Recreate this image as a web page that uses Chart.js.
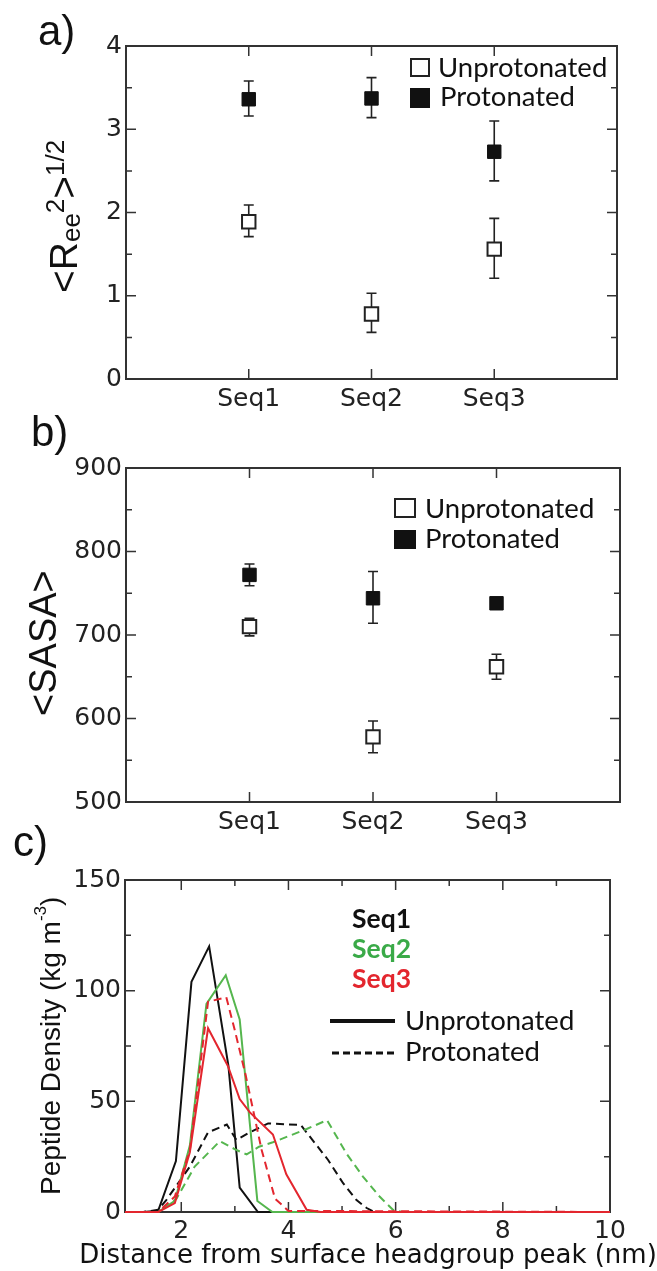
<!DOCTYPE html>
<html>
<head>
<meta charset="utf-8">
<script src="https://cdn.jsdelivr.net/npm/chart.js@4.4.1/dist/chart.umd.min.js"></script>
<style>
    html, body { margin: 0; padding: 0; background: #fff; }
    #wrap { position: relative; width: 657px; height: 1271px; overflow: hidden; }
    canvas { position: absolute; left: 0; }
</style>
</head>
<body>
<div id="wrap">
    <canvas id="chartA" width="657" height="420" style="top:0px"></canvas>
    <canvas id="chartB" width="657" height="440" style="top:400px"></canvas>
    <canvas id="chartC" width="657" height="456" style="top:815px"></canvas>
</div>
<script>
// categories shared by panels a) and b)
const seqLabels = ['Seq1', 'Seq2', 'Seq3'];
const seqPos = [1, 2, 3];
const stateLabels = ['Unprotonated', 'Protonated'];

// a) <Ree^2>^1/2
const reeUnprot = [1.89, 0.78, 1.56];
const reeUnprotLo = [1.71, 0.56, 1.21];
const reeUnprotHi = [2.09, 1.03, 1.93];
const reeProt = [3.36, 3.37, 2.73];
const reeProtLo = [3.16, 3.14, 2.38];
const reeProtHi = [3.58, 3.62, 3.10];
const reeTicks = [0, 1, 2, 3, 4];
const reeMinor = [0.5, 1.5, 2.5, 3.5];

// b) <SASA>
const sasaUnprot = [710, 578, 662];
const sasaUnprotLo = [699, 559, 647];
const sasaUnprotHi = [720, 597, 677];
const sasaProt = [772, 744, 738];
const sasaProtLo = [759, 714, 736];
const sasaProtHi = [785, 776, 740];
const sasaTicks = [500, 600, 700, 800, 900];
const sasaMinor = [550, 650, 750, 850];

// c) peptide density vs distance (nm)
const distTicks = [2, 4, 6, 8, 10];
const distMinor = [3, 5, 7, 9];
const densTicks = [0, 50, 100, 150];
const densMinor = [25, 75, 125];

const seq1UnX = [0.95, 1.29, 1.57, 1.9, 2.19, 2.52, 2.88, 3.09, 3.43, 10];
const seq1UnY = [0, 0, 0.6, 23, 104, 120, 66, 11, 0, 0];
const seq1PrX = [0.95, 1.29, 1.57, 1.72, 2.16, 2.5, 2.85, 3.03, 3.28, 3.62, 4.23, 4.74, 5.02, 5.27, 5.46, 5.6, 10];
const seq1PrY = [0, 0, 1, 5.4, 20.5, 36, 39.5, 32.5, 36, 40, 39.3, 23.5, 13, 5.4, 1.8, 0, 0];
const seq2UnX = [0.95, 1.57, 1.88, 2.16, 2.47, 2.83, 3.09, 3.42, 3.7, 10];
const seq2UnY = [0, 0, 5, 30, 94, 107, 87, 5, 0, 0];
const seq2PrX = [0.95, 1.57, 1.91, 2.25, 2.72, 3.03, 3.22, 3.45, 3.71, 4.34, 4.72, 5.08, 5.39, 5.7, 5.95, 6.13, 10];
const seq2PrY = [0, 0, 6, 20.5, 32, 28, 26, 29.5, 31.5, 37.5, 41.5, 26.5, 16, 7, 1, 0, 0];
const seq3UnX = [0.95, 1.57, 1.88, 2.16, 2.5, 2.87, 3.09, 3.28, 3.71, 3.96, 4.34, 4.6, 10];
const seq3UnY = [0, 0, 4, 27, 83, 66, 51, 45, 35, 17, 1, 0, 0];
const seq3PrX = [0.95, 1.57, 1.88, 2.16, 2.5, 2.84, 3.0, 3.2, 3.5, 3.75, 4.0, 10];
const seq3PrY = [0, 0, 7, 28, 95, 97, 82, 62, 28, 6, 0.5, 0];

const seqColors = ['#111111', '#55b64e', '#e3262e'];
const seqTextColors = ['#111111', '#3aaa48', '#e3262e'];

const SANS = "'Liberation Sans', Arial, sans-serif";
const WIDE = "'DejaVu Sans', sans-serif";
const LEG = "Lato, 'Open Sans', sans-serif";

function pts(xs, ys) {
    return xs.map((x, i) => ({ x: x, y: ys[i] }));
}

// box with inward tick marks on all four sides
const framePlugin = {
    id: 'frame',
    beforeDatasetsDraw(chart, args, opts) {
        const { ctx, chartArea: a } = chart;
        const x = chart.scales.x, y = chart.scales.y;
        ctx.save();
        ctx.strokeStyle = '#333';
        ctx.lineWidth = 2;
        ctx.strokeRect(a.left, a.top, a.right - a.left, a.bottom - a.top);
        ctx.lineWidth = 1.5;
        ctx.beginPath();
        const xt = (vals, len) => vals.forEach(v => {
            const p = x.getPixelForValue(v);
            ctx.moveTo(p, a.bottom); ctx.lineTo(p, a.bottom - len);
            ctx.moveTo(p, a.top); ctx.lineTo(p, a.top + len);
        });
        const yt = (vals, len) => vals.forEach(v => {
            const p = y.getPixelForValue(v);
            ctx.moveTo(a.left, p); ctx.lineTo(a.left + len, p);
            ctx.moveTo(a.right, p); ctx.lineTo(a.right - len, p);
        });
        xt(opts.xMajor || [], 10);
        xt(opts.xMinor || [], 6);
        yt(opts.yMajor || [], 10);
        yt(opts.yMinor || [], 6);
        ctx.stroke();
        ctx.restore();
    }
};

// vertical error bars with caps, drawn under the markers
const errorBars = {
    id: 'errorBars',
    beforeDatasetsDraw(chart) {
        const { ctx } = chart;
        const x = chart.scales.x, y = chart.scales.y;
        chart.data.datasets.forEach(ds => {
            if (!ds.errLo) return;
            ctx.save();
            ctx.strokeStyle = '#222';
            ctx.lineWidth = 1.6;
            ctx.beginPath();
            ds.data.forEach((p, i) => {
                const px = x.getPixelForValue(p.x);
                const lo = y.getPixelForValue(ds.errLo[i]);
                const hi = y.getPixelForValue(ds.errHi[i]);
                ctx.moveTo(px, lo); ctx.lineTo(px, hi);
                ctx.moveTo(px - 5, lo); ctx.lineTo(px + 5, lo);
                ctx.moveTo(px - 5, hi); ctx.lineTo(px + 5, hi);
            });
            ctx.stroke();
            ctx.restore();
        });
    }
};

// text made of several runs (sub/superscripts), optionally rotated or centred
const richText = {
    id: 'richText',
    afterDraw(chart, args, opts) {
        const ctx = chart.ctx;
        const fontOf = (it, p) => (p.weight || 'normal') + ' ' + p.size + 'px ' + (p.family || it.family || SANS);
        (opts.items || []).forEach(it => {
            ctx.save();
            ctx.translate(it.x, it.y);
            if (it.rotate) ctx.rotate(it.rotate);
            ctx.textBaseline = 'alphabetic';
            ctx.textAlign = 'left';
            let cx = 0;
            if (it.align === 'center') {
                let w = 0;
                it.parts.forEach(p => { ctx.font = fontOf(it, p); w += ctx.measureText(p.t).width; });
                cx = -w / 2;
            }
            it.parts.forEach(p => {
                ctx.font = fontOf(it, p);
                ctx.fillStyle = p.color || it.color || '#111';
                ctx.fillText(p.t, cx, p.dy || 0);
                cx += ctx.measureText(p.t).width;
            });
            ctx.restore();
        });
    }
};

// hand placed legend symbols
const symbolLegend = {
    id: 'symbolLegend',
    afterDraw(chart, args, opts) {
        const ctx = chart.ctx;
        (opts.items || []).forEach(it => {
            ctx.save();
            if (it.kind === 'open' || it.kind === 'filled') {
                const [bx, by, bw, bh] = it.box;
                if (it.kind === 'filled') {
                    ctx.fillStyle = '#111';
                    ctx.fillRect(bx, by, bw, bh);
                } else {
                    ctx.strokeStyle = '#222';
                    ctx.lineWidth = 2;
                    ctx.strokeRect(bx + 1, by + 1, bw - 2, bh - 2);
                }
            } else {
                ctx.strokeStyle = '#111';
                ctx.lineWidth = it.kind === 'solid' ? 4 : 3;
                if (it.kind === 'dashed') ctx.setLineDash([7, 4]);
                ctx.beginPath();
                ctx.moveTo(it.line[0], it.line[2]);
                ctx.lineTo(it.line[1], it.line[2]);
                ctx.stroke();
            }
            if (it.text) {
                ctx.font = '27.5px ' + LEG;
                ctx.fillStyle = '#111';
                ctx.textBaseline = 'alphabetic';
                ctx.fillText(it.text, it.tx, it.ty);
            }
            ctx.restore();
        });
    }
};

function errorChart(id, cfg) {
    return new Chart(document.getElementById(id), {
        type: 'scatter',
        data: {
            datasets: [
                {
                    label: stateLabels[0],
                    data: pts(seqPos, cfg.unprot),
                    errLo: cfg.unprotLo,
                    errHi: cfg.unprotHi,
                    pointStyle: 'rect',
                    pointRadius: 9.5,
                    pointHoverRadius: 9.5,
                    backgroundColor: '#ffffff',
                    borderColor: '#222',
                    borderWidth: 2
                },
                {
                    label: stateLabels[1],
                    data: pts(seqPos, cfg.prot),
                    errLo: cfg.protLo,
                    errHi: cfg.protHi,
                    pointStyle: 'rect',
                    pointRadius: 9.5,
                    pointHoverRadius: 9.5,
                    backgroundColor: '#111',
                    borderColor: '#111',
                    borderWidth: 1
                }
            ]
        },
        options: {
            responsive: false,
            animation: false,
            events: [],
            layout: { padding: cfg.padding },
            plugins: {
                legend: { display: false },
                tooltip: { enabled: false },
                frame: { xMajor: seqPos, yMajor: cfg.yTicks, yMinor: cfg.yMinor },
                richText: { items: cfg.texts },
                symbolLegend: { items: cfg.legend }
            },
            scales: {
                x: {
                    type: 'linear',
                    min: 0,
                    max: 4,
                    grid: { display: false, drawTicks: false },
                    border: { display: false },
                    afterBuildTicks: s => { s.ticks = seqPos.map(v => ({ value: v })); },
                    afterFit: s => { s.height = cfg.xHeight; },
                    ticks: {
                        autoSkip: false, maxRotation: 0, padding: 5, color: '#222',
                        font: { family: WIDE, size: 25 },
                        callback: (v, i) => seqLabels[i]
                    }
                },
                y: {
                    min: cfg.yTicks[0],
                    max: cfg.yTicks[cfg.yTicks.length - 1],
                    grid: { display: false, drawTicks: false },
                    border: { display: false },
                    afterBuildTicks: s => { s.ticks = cfg.yTicks.map(v => ({ value: v })); },
                    afterFit: s => { s.width = 126; },
                    ticks: { padding: 4, color: '#222', font: { family: WIDE, size: 25 } }
                }
            }
        },
        plugins: [framePlugin, errorBars, richText, symbolLegend]
    });
}

// Panel a
errorChart('chartA', {
    unprot: reeUnprot, unprotLo: reeUnprotLo, unprotHi: reeUnprotHi,
    prot: reeProt, protLo: reeProtLo, protHi: reeProtHi,
    yTicks: reeTicks, yMinor: reeMinor,
    padding: { top: 46, right: 40, left: 0, bottom: 0 },
    xHeight: 41,
    texts: [
        { x: 38, y: 45, parts: [{ t: 'a)', size: 42 }] },
        {
            x: 77, y: 293, rotate: -Math.PI / 2,
            parts: [
                { t: '<', size: 39 }, { t: 'R', size: 39 },
                { t: 'ee', size: 26, dy: 3 }, { t: '2', size: 26, dy: -13 },
                { t: '>', size: 39 }, { t: '1/2', size: 26, dy: -13 }
            ]
        }
    ],
    legend: [
        { kind: 'open', box: [410, 58, 20, 19], text: stateLabels[0], tx: 438, ty: 77 },
        { kind: 'filled', box: [410, 88, 20, 20], text: stateLabels[1], tx: 440, ty: 106 }
    ]
});

// Panel b
errorChart('chartB', {
    unprot: sasaUnprot, unprotLo: sasaUnprotLo, unprotHi: sasaUnprotHi,
    prot: sasaProt, protLo: sasaProtLo, protHi: sasaProtHi,
    yTicks: sasaTicks, yMinor: sasaMinor,
    padding: { top: 68, right: 37, left: 0, bottom: 0 },
    xHeight: 38,
    texts: [
        { x: 31, y: 46, parts: [{ t: 'b)', size: 42 }] },
        { x: 56, y: 316, rotate: -Math.PI / 2, parts: [{ t: '<SASA>', size: 38 }] }
    ],
    legend: [
        { kind: 'open', box: [394, 98, 22, 20], text: stateLabels[0], tx: 425, ty: 118 },
        { kind: 'filled', box: [394, 130, 22, 19], text: stateLabels[1], tx: 425, ty: 148 }
    ]
});

// Panel c
const lineSets = [
    { x: seq3UnX, y: seq3UnY, c: 2, dash: false },
    { x: seq3PrX, y: seq3PrY, c: 2, dash: true },
    { x: seq2UnX, y: seq2UnY, c: 1, dash: false },
    { x: seq2PrX, y: seq2PrY, c: 1, dash: true },
    { x: seq1UnX, y: seq1UnY, c: 0, dash: false },
    { x: seq1PrX, y: seq1PrY, c: 0, dash: true }
];

new Chart(document.getElementById('chartC'), {
    type: 'line',
    data: {
        datasets: lineSets.map(s => ({
            label: seqLabels[s.c] + ' ' + (s.dash ? stateLabels[1] : stateLabels[0]),
            data: pts(s.x, s.y),
            borderColor: seqColors[s.c],
            borderWidth: 2,
            borderDash: s.dash ? [8, 5] : [],
            pointRadius: 0,
            tension: 0,
            fill: false,
            clip: false
        }))
    },
    options: {
        responsive: false,
        animation: false,
        events: [],
        layout: { padding: { top: 65, right: 47, left: 0, bottom: 0 } },
        plugins: {
            legend: { display: false },
            tooltip: { enabled: false },
            frame: { xMajor: [2, 4, 6, 8], xMinor: distMinor, yMajor: densTicks, yMinor: densMinor },
            richText: {
                items: [
                    { x: 13, y: 41, parts: [{ t: 'c)', size: 42 }] },
                    {
                        x: 60, y: 380, rotate: -Math.PI / 2,
                        parts: [
                            { t: 'Peptide Density (kg m', size: 28 },
                            { t: '-3', size: 17, dy: -14 },
                            { t: ')', size: 28 }
                        ]
                    },
                    {
                        x: 368, y: 448, align: 'center', family: WIDE,
                        parts: [{ t: 'Distance from surface headgroup peak (nm)', size: 26 }]
                    },
                    { x: 352, y: 113, family: LEG, parts: [{ t: seqLabels[0], size: 26.5, weight: 'bold', color: seqTextColors[0] }] },
                    { x: 352, y: 143, family: LEG, parts: [{ t: seqLabels[1], size: 26.5, weight: 'bold', color: seqTextColors[1] }] },
                    { x: 352, y: 173, family: LEG, parts: [{ t: seqLabels[2], size: 26.5, weight: 'bold', color: seqTextColors[2] }] }
                ]
            },
            symbolLegend: {
                items: [
                    { kind: 'solid', line: [330, 395, 206], text: stateLabels[0], tx: 405, ty: 215 },
                    { kind: 'dashed', line: [332, 395, 238], text: stateLabels[1], tx: 405, ty: 246 }
                ]
            }
        },
        scales: {
            x: {
                type: 'linear',
                min: 0.95,
                max: 10,
                grid: { display: false, drawTicks: false },
                border: { display: false },
                afterBuildTicks: s => { s.ticks = distTicks.map(v => ({ value: v })); },
                afterFit: s => { s.height = 59; },
                ticks: { autoSkip: false, maxRotation: 0, padding: 4, color: '#222', font: { family: WIDE, size: 25 } }
            },
            y: {
                min: 0,
                max: 150,
                grid: { display: false, drawTicks: false },
                border: { display: false },
                afterBuildTicks: s => { s.ticks = densTicks.map(v => ({ value: v })); },
                afterFit: s => { s.width = 125; },
                ticks: { padding: 4, color: '#222', font: { family: WIDE, size: 25 } }
            }
        }
    },
    plugins: [framePlugin, richText, symbolLegend]
});
</script>
</body>
</html>
